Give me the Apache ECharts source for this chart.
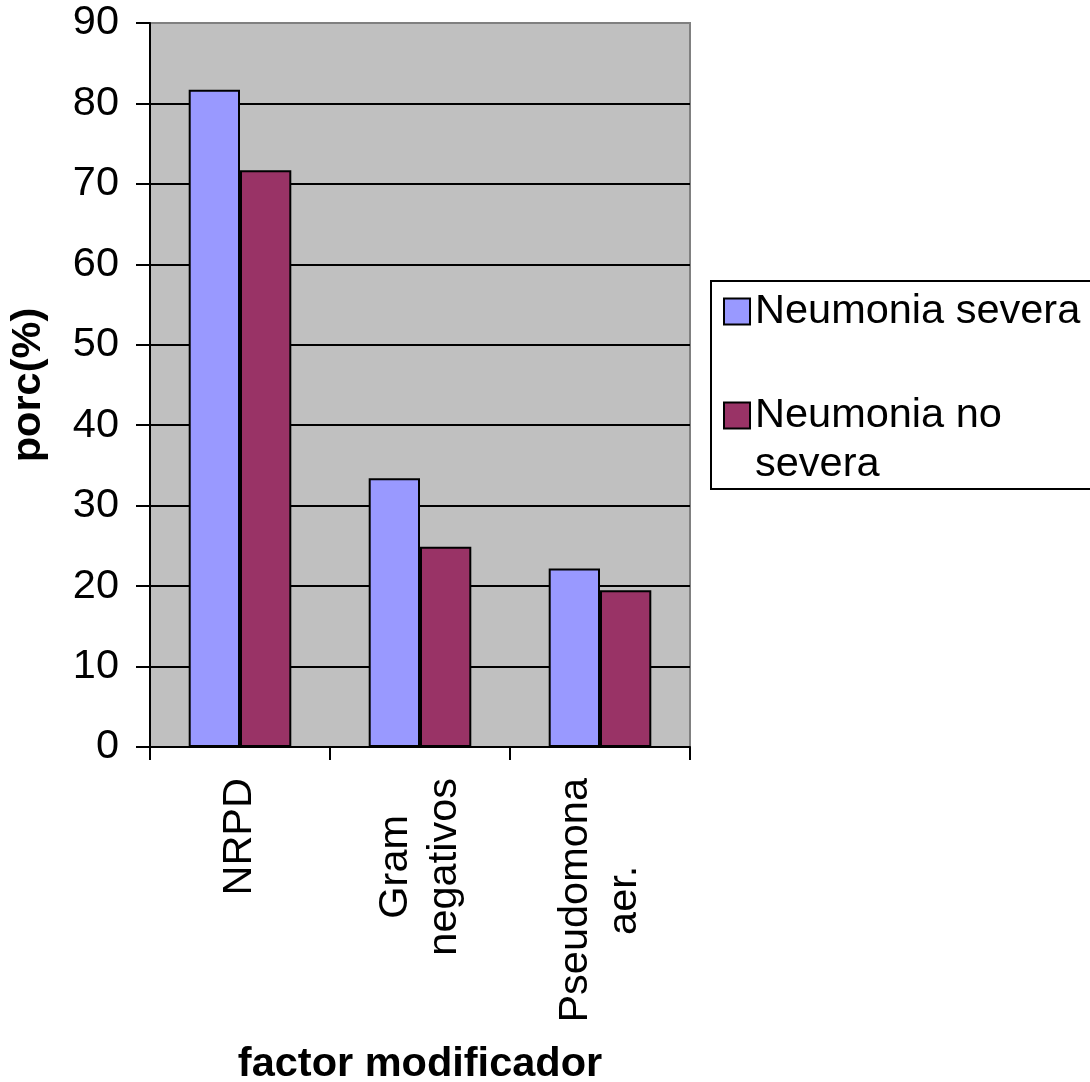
<!DOCTYPE html>
<html>
<head>
<meta charset="utf-8">
<script src="https://cdn.jsdelivr.net/npm/echarts@6/dist/echarts.min.js"></script>
<style>
html,body{margin:0;padding:0;background:#fff;width:100%;height:100%;overflow:hidden;}
#chart{width:100vw;height:100vh;}
</style>
</head>
<body>
<div id="chart"></div>
<script>
const categories = ['NRPD', 'Gram negativos', 'Pseudomona aer.'];
const seriesNames = ['Neumonia severa', 'Neumonia no severa'];
const severaValues = [81.7, 33.4, 22.2];
const noSeveraValues = [71.7, 24.9, 19.5];
const yTicks = { min: 0, max: 90, interval: 10 };

const FONT = '"Liberation Sans", Arial, sans-serif';
const FS = 41.5;
const LH = 49;
const chart = echarts.init(document.getElementById('chart'), null, { renderer: 'canvas' });

chart.setOption({
  animation: false,
  backgroundColor: '#ffffff',
  textStyle: { fontFamily: FONT, color: '#000' },
  grid: {
    left: 150, right: 400, top: 23, bottom: 335,
    containLabel: false,
    outerBoundsMode: 'none',
    show: true, backgroundColor: '#c0c0c0', borderColor: '#808080', borderWidth: 2
  },
  legend: {
    orient: 'vertical',
    left: 711, top: 281,
    padding: [6, 14, 0, 12],
    itemGap: 6,
    itemWidth: 26, itemHeight: 26,
    borderColor: '#000', borderWidth: 2,
    backgroundColor: '#fff',
    itemStyle: { borderColor: '#000', borderWidth: 2 },
    textStyle: { fontSize: FS, lineHeight: LH, color: '#000', fontFamily: FONT },
    formatter: function (name) {
      return name === seriesNames[1] ? ' \nNeumonia no\nsevera' : name;
    },
    data: [
      { name: seriesNames[0], icon: 'rect' },
      { name: seriesNames[1], icon: 'rect' }
    ]
  },
  xAxis: {
    type: 'category',
    data: categories,
    name: 'factor modificador',
    nameLocation: 'middle',
    nameGap: 297,
    nameTextStyle: { fontSize: FS, fontWeight: 'bold', color: '#000', fontFamily: FONT },
    axisLine: { show: true, lineStyle: { color: '#000', width: 2 } },
    axisTick: { show: true, length: 13, lineStyle: { color: '#000', width: 2 } },
    axisLabel: {
      interval: 0,
      rotate: 90,
      margin: 31,
      fontSize: FS,
      lineHeight: LH,
      color: '#000',
      fontFamily: FONT,
      formatter: function (v) {
        return v.split(' ').map(function (s) { return '{c|' + s + '}'; }).join('\n');
      },
      rich: {
        c: { align: 'center', fontSize: FS, lineHeight: LH, color: '#000', fontFamily: FONT }
      }
    },
    splitLine: { show: false }
  },
  yAxis: {
    type: 'value',
    min: yTicks.min, max: yTicks.max, interval: yTicks.interval,
    name: 'porc(%)',
    nameLocation: 'middle',
    nameGap: 100,
    nameTextStyle: { fontSize: FS, fontWeight: 'bold', color: '#000', fontFamily: FONT },
    axisLine: { show: true, lineStyle: { color: '#000', width: 2 } },
    axisTick: { show: true, length: 14, lineStyle: { color: '#000', width: 2 } },
    axisLabel: { fontSize: FS, color: '#000', margin: 31, fontFamily: FONT },
    splitLine: { show: true, showMaxLine: false, lineStyle: { color: '#000', width: 2 } }
  },
  series: [
    {
      name: seriesNames[0], type: 'bar', data: severaValues,
      barGap: '0%', barCategoryGap: '43%',
      itemStyle: { color: '#9999ff', borderColor: '#000', borderWidth: 2 }
    },
    {
      name: seriesNames[1], type: 'bar', data: noSeveraValues,
      barGap: '0%', barCategoryGap: '43%',
      itemStyle: { color: '#993366', borderColor: '#000', borderWidth: 2 }
    }
  ]
});
</script>
</body>
</html>
